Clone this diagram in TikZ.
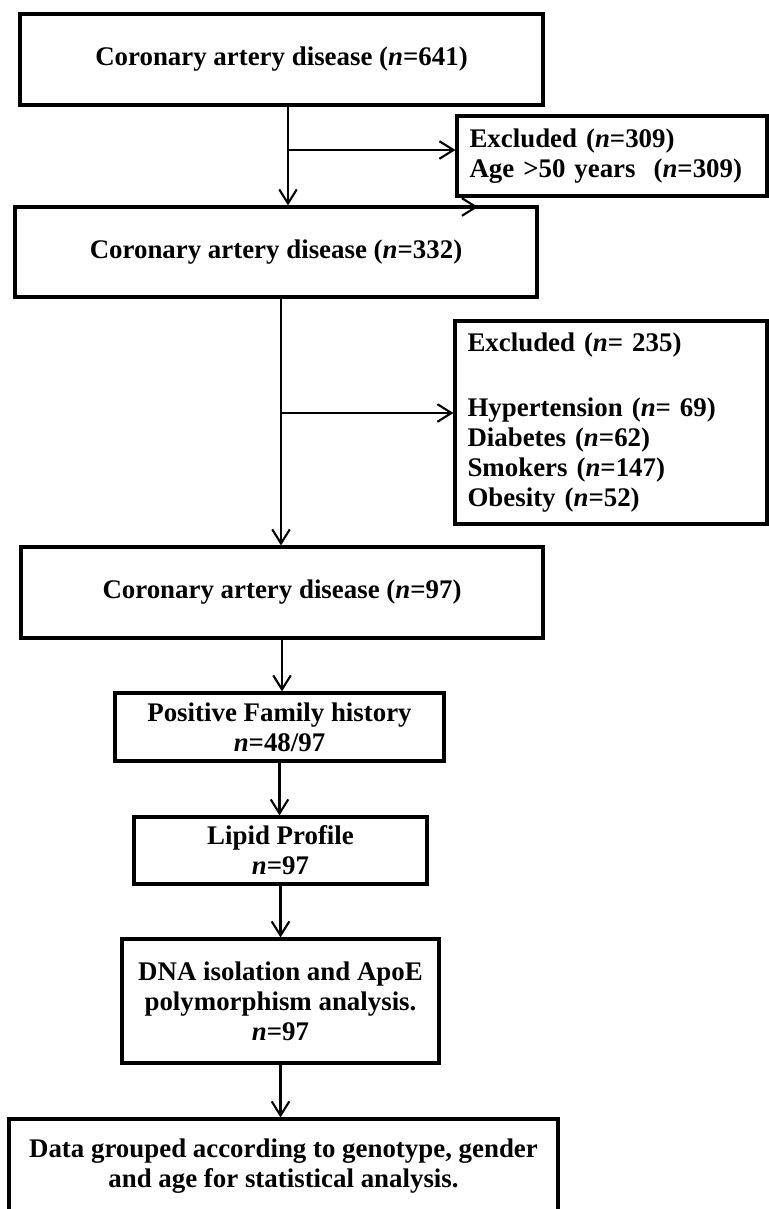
\documentclass[tikz,border=0pt]{standalone}
\usepackage{fontspec}
\setmainfont{Liberation Serif}
\usepackage{tikz}
\usetikzlibrary{arrows.meta}
\tikzset{
  box/.style={draw,line width=1.8pt,inner sep=0pt,align=center,font=\bfseries\fontsize{15.3}{17}\selectfont},
  exbox/.style={box,align=left,inner xsep=0.25cm},
  arr/.style={line width=1.2pt,-{Straight Barb[length=8pt,width=10pt]}},
}
\newcommand{\nn}{\textit{n}}

\begin{document}
\begin{tikzpicture}[x=0.02cm,y=-0.02cm]
  \useasboundingbox (0,0) rectangle (768,1209);
  \node[box,minimum width=10.46cm,minimum height=1.82cm] (b641) at (281.5,59.5) {Coronary artery disease (\nn=641)};
  \node[exbox,text width=5.7cm,minimum height=1.6cm] (ex309) at (612,156) {Excluded (\nn=309)\\Age >50 years\ \ (\nn=309)};
  \node[box,minimum width=10.44cm,minimum height=1.8cm] (b332) at (276,252) {Coronary artery disease (\nn=332)};
  \node[exbox,text width=5.74cm,minimum height=4.06cm] (ex235) at (611,422.5) {Excluded (\nn= 235)\\[0.7cm]Hypertension (\nn= 69)\\Diabetes (\nn=62)\\Smokers (\nn=147)\\Obesity (\nn=52)};
  \node[box,minimum width=10.44cm,minimum height=1.82cm] (b97) at (282,592.5) {Coronary artery disease (\nn=97)};
  \node[box,minimum width=6.58cm,minimum height=1.36cm] (fam) at (279.5,727) {Positive Family history\\\nn=48/97};
  \node[box,minimum width=5.86cm,minimum height=1.34cm] (lipid) at (280.5,850.5) {Lipid Profile\\\nn=97};
  \node[box,minimum width=6.34cm,minimum height=2.48cm] (dna) at (280.5,1001) {DNA isolation and ApoE\\polymorphism analysis.\\\nn=97};
  \node[box,minimum width=10.98cm,minimum height=1.9cm] (data) at (283.5,1166.5) {Data grouped according to genotype, gender\\and age for statistical analysis.};

  \draw[arr] ([xshift=0.13cm]b641.south) coordinate (t1) -- (t1 |- b332.north);
  \coordinate (j1) at (288,150);
  \draw[arr] (j1) -- (j1 -| ex309.west);
  \coordinate (s0) at (440,207); \coordinate (s1) at (478,207);
  \draw[arr] (s0) -- (s1);
  \draw[arr] ([xshift=0.1cm]b332.south) coordinate (t2) -- (t2 |- b97.north);
  \coordinate (j2) at (281,413);
  \draw[arr] (j2) -- (j2 -| ex235.west);
  \draw[arr] (b97.south) -- (b97.south |- fam.north);
  \draw[arr] (fam.south) -- (fam.south |- lipid.north);
  \draw[arr] (lipid.south) -- (lipid.south |- dna.north);
  \draw[arr] (dna.south) -- (dna.south |- data.north);
\end{tikzpicture}
\end{document}
